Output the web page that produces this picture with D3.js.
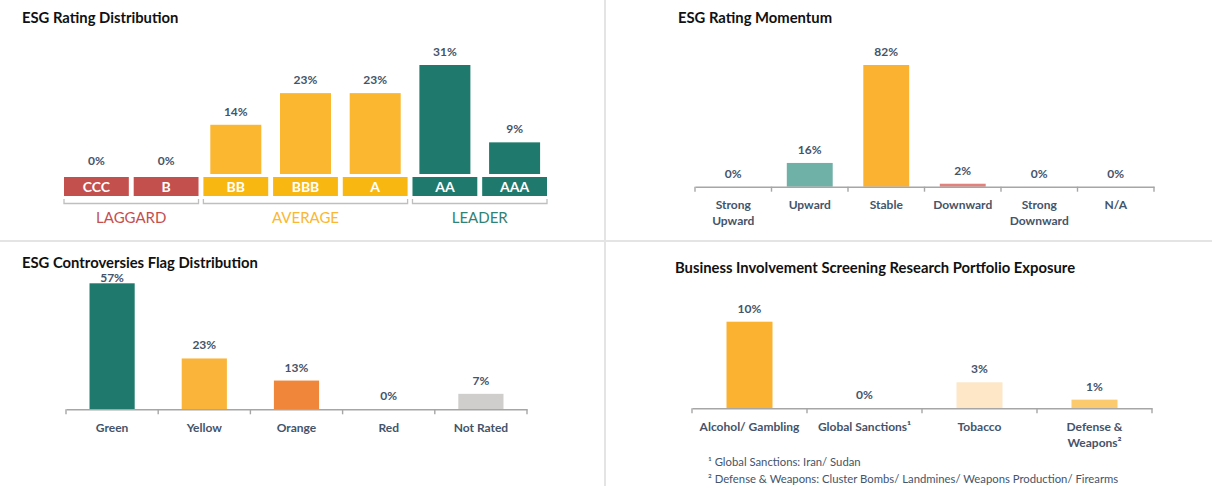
<!DOCTYPE html>
<html>
<head>
<meta charset="utf-8">
<script src="https://cdn.jsdelivr.net/npm/d3@7"></script>
<style>
  body { margin: 0; background: #fff; }
  svg { display: block; font-family: Lato, "Open Sans", sans-serif; }
  .title { font-weight: 700; font-size: 14.8px; fill: #111; }
  .val { font-weight: 700; font-size: 12px; fill: #44546a; }
  .cat { font-weight: 700; font-size: 12px; fill: #44546a; }
</style>
</head>
<body>
<div id="app"></div>
<script>
// ESG Rating Distribution
const ratingCats = ['CCC', 'B', 'BB', 'BBB', 'A', 'AA', 'AAA'];
const ratingVals = [0, 0, 14, 23, 23, 31, 9];
const ratingGroupNames = ['LAGGARD', 'AVERAGE', 'LEADER'];
const ratingGroupOf = ['LAGGARD', 'LAGGARD', 'AVERAGE', 'AVERAGE', 'AVERAGE', 'LEADER', 'LEADER'];

// ESG Rating Momentum
const momentumCats = ['Strong Upward', 'Upward', 'Stable', 'Downward', 'Strong Downward', 'N/A'];
const momentumVals = [0, 16, 82, 2, 0, 0];

// ESG Controversies Flag Distribution
const flagCats = ['Green', 'Yellow', 'Orange', 'Red', 'Not Rated'];
const flagVals = [57, 23, 13, 0, 7];

// Business Involvement Screening Research
const bisrCats = ['Alcohol/ Gambling', 'Global Sanctions\u00b9', 'Tobacco', 'Defense & Weapons\u00b2'];
const bisrVals = [10, 0, 3, 1];

const footnotes = [
  '\u00b9 Global Sanctions: Iran/ Sudan',
  '\u00b2 Defense & Weapons: Cluster Bombs/ Landmines/ Weapons Production/ Firearms'
];

// colours (styles kept apart from data)
const groupColor = { LAGGARD: '#c4504d', AVERAGE: '#fbb730', LEADER: '#1f7a6d' };
const boxColor = { LAGGARD: '#c4504d', AVERAGE: '#f9b811', LEADER: '#1f7a6d' };
const groupText = { LAGGARD: '#c4504d', AVERAGE: '#fbb730', LEADER: '#2f8276' };
const momentumColors = ['#6fb0a7', '#6fb0a7', '#fbb231', '#e3827c', '#e3827c', '#cccccc'];
const flagColors = ['#1f7a6d', '#fbb43a', '#ef863a', '#c4504d', '#d0cecd'];
const bisrColors = ['#fbb231', '#fbb231', '#fde7c6', '#fcca6e'];

const W = 1212, H = 488;
const svg = d3.select('#app').append('svg')
  .attr('width', W)
  .attr('height', H);

// panel separators
svg.append('line')
  .attr('x1', 0).attr('x2', W).attr('y1', 241).attr('y2', 241)
  .attr('stroke', '#e4e4e4').attr('stroke-width', 2);
svg.append('line')
  .attr('x1', 605).attr('x2', 605).attr('y1', 0).attr('y2', 486)
  .attr('stroke', '#e4e4e4').attr('stroke-width', 2);

// ---------- top-left: rating distribution ----------
function ratingChart() {
  const g = svg.append('g');
  g.append('text').attr('class', 'title').attr('x', 22).attr('y', 23).text('ESG Rating Distribution');

  const x = d3.scaleBand().domain(ratingCats).range([64, 547]).paddingInner(0.07).paddingOuter(0);
  const y = d3.scaleLinear().domain([0, d3.max(ratingVals)]).range([174, 65]);
  const barW = 51;
  const data = ratingCats.map((c, i) => ({ cat: c, value: ratingVals[i], group: ratingGroupOf[i] }));

  g.selectAll('rect.bar')
    .data(data)
    .enter()
    .append('rect')
    .attr('class', 'bar')
    .attr('x', d => x(d.cat) + x.bandwidth() / 2 - barW / 2)
    .attr('width', barW)
    .attr('y', d => y(d.value))
    .attr('height', d => y(0) - y(d.value))
    .attr('fill', d => groupColor[d.group]);

  g.selectAll('text.val')
    .data(data)
    .enter()
    .append('text')
    .attr('class', 'val')
    .attr('text-anchor', 'middle')
    .attr('x', d => x(d.cat) + x.bandwidth() / 2)
    .attr('y', d => y(d.value) - 9)
    .text(d => d.value + '%');

  // category boxes
  g.selectAll('rect.box')
    .data(data)
    .enter()
    .append('rect')
    .attr('class', 'box')
    .attr('x', d => x(d.cat))
    .attr('width', x.bandwidth())
    .attr('y', 177)
    .attr('height', 19)
    .attr('fill', d => boxColor[d.group]);

  g.selectAll('text.box')
    .data(data)
    .enter()
    .append('text')
    .attr('class', 'box')
    .attr('text-anchor', 'middle')
    .attr('x', d => x(d.cat) + x.bandwidth() / 2)
    .attr('y', 191.5)
    .attr('fill', '#fff')
    .style('font-weight', 700)
    .style('font-size', '14px')
    .text(d => d.cat);

  // group brackets
  ratingGroupNames.forEach(name => {
    const cats = ratingCats.filter((c, i) => ratingGroupOf[i] === name);
    const x0 = x(cats[0]);
    const x1 = x(cats[cats.length - 1]) + x.bandwidth();
    g.append('path')
      .attr('d', `M${x0},199V203.5H${x1}V199`)
      .attr('fill', 'none')
      .attr('stroke', '#bfbfbf')
      .attr('stroke-width', 1.3);
    g.append('text')
      .attr('x', (x0 + x1) / 2)
      .attr('y', 223)
      .attr('text-anchor', 'middle')
      .attr('fill', groupText[name])
      .style('font-size', '15px')
      .text(name);
  });
}

// ---------- generic bar panel with bottom axis ----------
function barPanel(opt) {
  const g = svg.append('g');
  g.append('text').attr('class', 'title').attr('x', opt.titleX).attr('y', opt.titleY).text(opt.title);

  const n = opt.cats.length;
  const x = d3.scaleBand().domain(opt.cats).range(opt.xRange)
    .paddingInner(opt.pad).paddingOuter(opt.pad / 2);
  const y = d3.scaleLinear().domain([0, d3.max(opt.vals)]).range([opt.base, opt.top]);
  const data = opt.cats.map((c, i) => ({ cat: c, value: opt.vals[i], color: opt.colors[i] }));

  g.selectAll('rect')
    .data(data)
    .enter()
    .append('rect')
    .attr('x', d => x(d.cat))
    .attr('width', x.bandwidth())
    .attr('y', d => y(d.value))
    .attr('height', d => y(0) - y(d.value))
    .attr('fill', d => d.color);

  // axis line + labels
  const axis = g.append('g')
    .attr('transform', `translate(0,${opt.base})`)
    .call(d3.axisBottom(x).tickSize(0).tickPadding(14));
  axis.select('.domain').attr('stroke', '#a6a6a6').attr('stroke-width', 1.4);
  axis.selectAll('.tick text')
    .attr('class', 'cat')
    .each(function (d) {
      const lines = opt.wrap[d] || [d];
      const t = d3.select(this).text(null);
      lines.forEach((l, i) => {
        t.append('tspan').attr('x', 0).attr('dy', i === 0 ? '0.71em' : '16px').text(l);
      });
    });
  axis.attr('font-family', null).attr('font-size', null);

  // boundary ticks
  const step = x.step();
  const bounds = d3.range(n + 1).map(i => opt.xRange[0] + i * step);
  g.selectAll('line.bt')
    .data(bounds)
    .enter()
    .append('line')
    .attr('x1', d => d).attr('x2', d => d)
    .attr('y1', opt.base).attr('y2', opt.base + 5)
    .attr('stroke', '#a6a6a6').attr('stroke-width', 1.4);

  // value labels; kept clear of the panel title where the top bar reaches it
  const minY = opt.minLabelY || 0;
  g.selectAll('text.val')
    .data(data)
    .enter()
    .append('text')
    .attr('class', 'val')
    .attr('text-anchor', 'middle')
    .attr('x', d => x(d.cat) + x.bandwidth() / 2)
    .attr('y', d => Math.max(y(d.value) - 9, minY))
    .text(d => d.value + '%');

  return g;
}

ratingChart();

barPanel({
  title: 'ESG Rating Momentum', titleX: 678, titleY: 23,
  cats: momentumCats, vals: momentumVals, colors: momentumColors,
  xRange: [695, 1154], pad: 0.4, base: 186.7, top: 65,
  wrap: { 'Strong Upward': ['Strong', 'Upward'], 'Strong Downward': ['Strong', 'Downward'] }
});

barPanel({
  title: 'ESG Controversies Flag Distribution', titleX: 22, titleY: 268,
  cats: flagCats, vals: flagVals, colors: flagColors,
  xRange: [66, 527], pad: 0.51, base: 409.3, top: 283.3,
  wrap: {}, minLabelY: 282
});

const bisrPanel = barPanel({
  title: 'Business Involvement Screening Research Portfolio Exposure', titleX: 675, titleY: 273,
  cats: bisrCats, vals: bisrVals, colors: bisrColors,
  xRange: [692, 1152], pad: 0.6, base: 408.3, top: 321.7,
  wrap: { 'Defense & Weapons\u00b2': ['Defense &', 'Weapons\u00b2'] }
});

bisrPanel.selectAll('text.note')
  .data(footnotes)
  .enter()
  .append('text')
  .attr('class', 'note')
  .attr('x', 708)
  .attr('y', (d, i) => 466 + i * 16.5)
  .attr('fill', '#44546a')
  .style('font-size', '11.3px')
  .text(d => d);
</script>
</body>
</html>
